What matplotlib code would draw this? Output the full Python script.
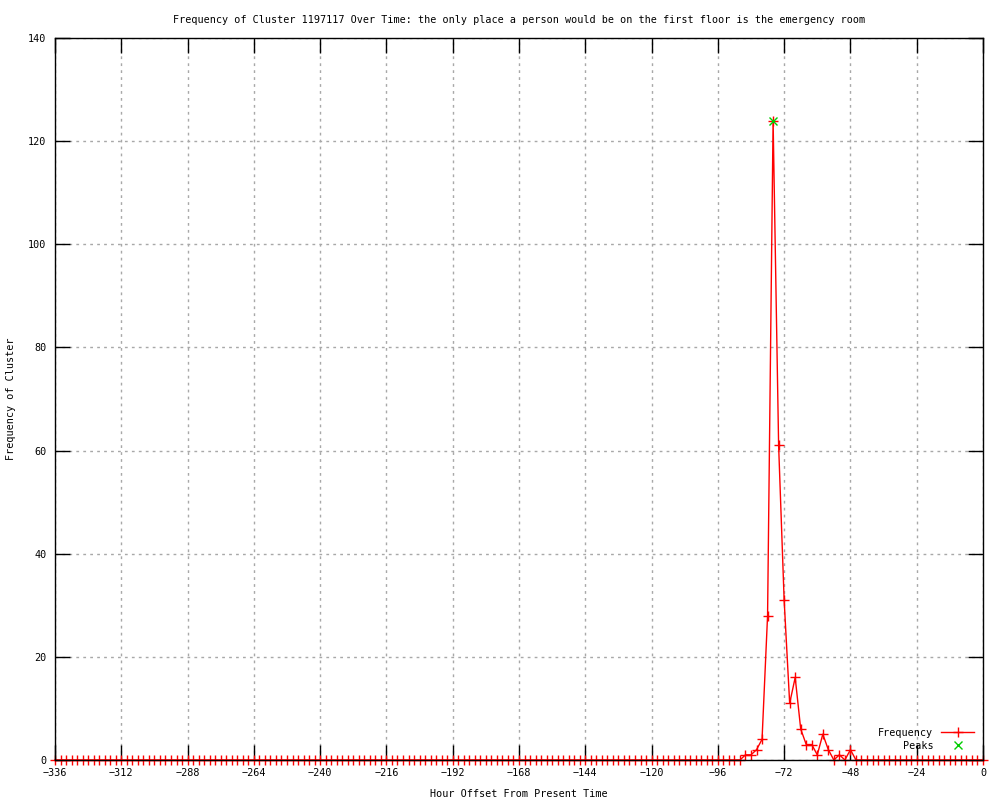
import numpy as np
import matplotlib.pyplot as plt

# Data
#################
hours = np.arange(-336, 1, 2)
freq = [0] * 125 + [1, 1, 2, 4, 28, 124, 61, 31, 11, 16,
                    6, 3, 3, 1, 5, 2, 0, 1, 0, 2] + [0] * 24
peak_hours = [-76]
peak_vals = [124]
xticks = list(range(-336, 1, 24))
yticks = list(range(0, 141, 20))
#################

plt.rcParams['font.family'] = ['DejaVu Sans Mono']
plt.rcParams['font.size'] = 7.3

fig = plt.figure(figsize=(10, 8), dpi=100)
ax = fig.add_axes([0.055, 0.05, 0.928, 0.9025])

ax.plot(hours, freq, color='red', lw=1, marker='+', ms=7, mew=1,
        label='Frequency', clip_on=False, zorder=3)
ax.plot(peak_hours, peak_vals, ls='none', color='#00cc00', marker='x',
        ms=6, mew=1, label='Peaks', zorder=4)

ax.set_xlim(-336, 0)
ax.set_ylim(0, 140)
ax.set_xticks(xticks)
ax.set_yticks(yticks)
ax.set_xticklabels([str(t).replace('-', '\u2212') for t in xticks])
ax.tick_params(direction='in', length=11, width=1, top=True, right=True, pad=6)
ax.grid(True, color='#a8a8a8', linestyle=(0, (2, 3)), lw=1)
for s in ax.spines.values():
    s.set_linewidth(1)
    s.set_zorder(5)

ax.set_title('Frequency of Cluster 1197117 Over Time: the only place a person would be on the first floor is the emergency room',
             pad=11, fontsize=7.3)
ax.set_xlabel('Hour Offset From Present Time', labelpad=8)
ax.set_ylabel('Frequency of Cluster', labelpad=9)

ax.legend(loc='lower right', frameon=False, markerfirst=False, handlelength=3.2,
          labelspacing=0.3, borderaxespad=0.5)

plt.savefig('out.png', dpi=100)
plt.close()
